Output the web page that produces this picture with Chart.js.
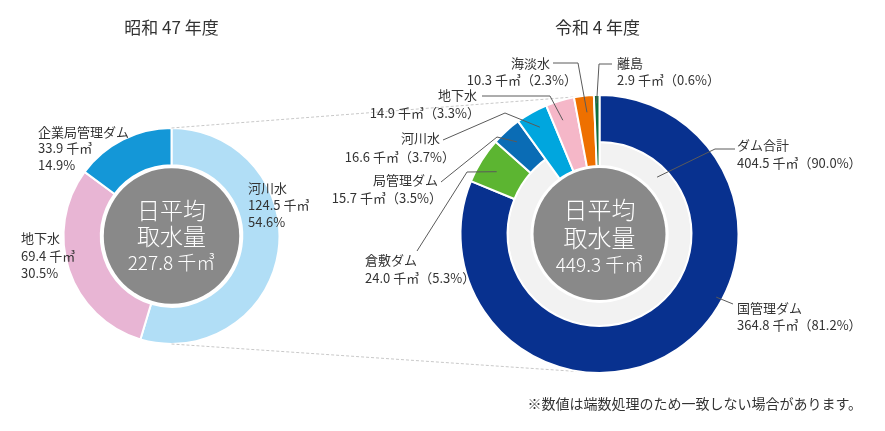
<!DOCTYPE html>
<html>
<head>
<meta charset="utf-8">
<script src="https://cdn.jsdelivr.net/npm/chart.js@4"></script>
<style>
body { margin: 0; background: #fff; }
#wrap { position: relative; width: 885px; height: 431px; }
#wrap canvas { position: absolute; left: 0; top: 0; }
</style>
</head>
<body>
<div id="wrap">
  <canvas id="left" width="885" height="431"></canvas>
  <canvas id="right" width="885" height="431"></canvas>
</div>
<script>
// 昭和47年度
const leftTitle = '昭和 47 年度'
const leftLabels = ['河川水', '地下水', '企業局管理ダム']
const leftValues = [124.5, 69.4, 33.9]
const leftShares = [54.6, 30.5, 14.9]
const leftTotal = 227.8

// 令和4年度
const rightTitle = '令和 4 年度'
const rightLabels = ['国管理ダム', '倉敷ダム', '局管理ダム', '河川水', '地下水', '海淡水', '離島']
const rightValues = [364.8, 24.0, 15.7, 16.6, 14.9, 10.3, 2.9]
const rightShares = [81.2, 5.3, 3.5, 3.7, 3.3, 2.3, 0.6]
const damLabel = 'ダム合計'
const damTotal = 404.5
const damShare = 90.0
const rightTotal = 449.3

const note = '※数値は端数処理のため一致しない場合があります。'

const FONT = '"Noto Sans CJK JP", "Noto Sans", sans-serif'
const TEXT = '#333'

function centerOf(chart) {
    const el = chart.getDatasetMeta(0).data[0]
    return {x: el.x, y: el.y, r: chart.getDatasetMeta(0).controller.outerRadius}
}

function drawCenter(ctx, c, radius, lines) {
    ctx.save()
    ctx.fillStyle = '#898989'
    ctx.beginPath()
    ctx.arc(c.x, c.y, radius, 0, Math.PI * 2)
    ctx.fill()
    ctx.fillStyle = '#fff'
    ctx.textAlign = 'center'
    ctx.textBaseline = 'middle'
    lines.forEach(([text, size, dy]) => {
        ctx.font = `300 ${size}px ${FONT}`
        ctx.fillText(text, c.x, c.y + dy)
    })
    ctx.restore()
}

function arcPoint(el, t, k) {
    const p = el.getProps(['x', 'y', 'startAngle', 'endAngle', 'outerRadius'], true)
    const a = p.startAngle + (p.endAngle - p.startAngle) * t
    const r = p.outerRadius * k
    return [p.x + Math.cos(a) * r, p.y + Math.sin(a) * r]
}

function text(ctx, str, x, y, align, size = 13) {
    ctx.font = `${size}px ${FONT}`
    ctx.textAlign = align
    ctx.textBaseline = 'middle'
    ctx.fillStyle = TEXT
    ctx.fillText(str, x, y)
}

// left label placement
const leftLayout = [
    {x: 248, y: [188, 205, 222]},
    {x: 21, y: [238, 256, 273]},
    {x: 38, y: [132, 148, 165]},
]

const leftPlugin = {
    id: 'leftDeco',
    afterDatasetsDraw(chart) {
        const ctx = chart.ctx
        const c = centerOf(chart)
        const inner = chart.getDatasetMeta(0).controller.innerRadius
        drawCenter(ctx, c, inner - 3, [['日平均', 23, -26], ['取水量', 23, 0], [`${leftTotal} 千㎥`, 19, 27]])
        ctx.save()
        text(ctx, leftTitle, c.x, 28, 'center', 17)
        leftLabels.forEach((name, i) => {
            const l = leftLayout[i]
            text(ctx, name, l.x, l.y[0], 'left')
            text(ctx, `${leftValues[i].toFixed(1)} 千㎥`, l.x, l.y[1], 'left')
            text(ctx, `${leftShares[i].toFixed(1)}%`, l.x, l.y[2], 'left')
        })
        ctx.restore()
    }
}

const leftChart = new Chart(document.getElementById('left'), {
    type: 'doughnut',
    data: {
        labels: leftLabels,
        datasets: [{
            data: leftValues,
            backgroundColor: ['#b1def6', '#e8b5d4', '#1497d7'],
            borderColor: '#fff',
            borderWidth: 2,
        }]
    },
    options: {
        responsive: false,
        animation: false,
        events: [],
        cutout: '65.5%',
        layout: {padding: {left: 62, top: 127, right: 604, bottom: 86}},
        plugins: {legend: {display: false}, tooltip: {enabled: false}}
    },
    plugins: [leftPlugin]
})

// right label placement: ring, slice, text positions, leader path, anchor in slice
const rightLayout = [
    {ds: 0, i: 0, nx: 737, vx: 737, align: 'left', y: [308, 325], path: [[733, 304]], t: 0.405, k: 0.955},
    {ds: 0, i: 1, nx: 365, vx: 365, align: 'left', y: [260, 278], path: [[417, 251], [467, 172]], t: 0.46, k: 0.865},
    {ds: 0, i: 2, nx: 438, vx: 442, align: 'right', y: [180, 198], path: [[441, 182], [497, 137]], t: 0.52, k: 0.89},
    {ds: 0, i: 3, nx: 440, vx: 455, align: 'right', y: [138, 157], path: [[443, 140], [505, 113]], t: 0.5, k: 0.88},
    {ds: 0, i: 4, nx: 477, vx: 480, align: 'right', y: [95, 113], path: [[482, 96], [550, 96]], t: 0.39, k: 0.86},
    {ds: 0, i: 5, nx: 550, vx: 577, align: 'right', y: [63, 80], path: [[553, 63], [578, 63]], t: 0.57, k: 0.88},
    {ds: 0, i: 6, nx: 617, vx: 617, align: 'left', y: [63, 80], path: [[612, 64], [599, 64]], t: 0.45, k: 0.94},
    {ds: 1, i: 0, nx: 737, vx: 737, align: 'left', y: [145, 163], path: [[735, 149], [715, 149]], t: 0.14, k: 0.88},
]

const rightPlugin = {
    id: 'rightDeco',
    beforeDatasetsDraw(chart) {
        // non-dam sources run through both rings
        const outer = chart.getDatasetMeta(0)
        const inner = chart.getDatasetMeta(1)
        outer.data.forEach((el, i) => {
            if (i >= 3) el.innerRadius = inner.controller.innerRadius
        })
        // zoom connector lines from the left donut
        const a = centerOf(leftChart)
        const b = centerOf(chart)
        const ctx = chart.ctx
        ctx.save()
        ctx.strokeStyle = '#c8c8c8'
        ctx.lineWidth = 1
        ctx.setLineDash([3, 2])
        ctx.beginPath()
        ctx.moveTo(a.x, a.y - a.r)
        ctx.lineTo(b.x, b.y - b.r)
        ctx.moveTo(a.x, a.y + a.r)
        ctx.lineTo(b.x, b.y + b.r)
        ctx.stroke()
        ctx.restore()
    },
    afterDatasetsDraw(chart) {
        const ctx = chart.ctx
        const c = centerOf(chart)
        const inner = chart.getDatasetMeta(1).controller.innerRadius
        drawCenter(ctx, c, inner - 2, [['日平均', 24, -24], ['取水量', 24, 4], [`${rightTotal} 千㎥`, 19, 31]])
        ctx.save()
        text(ctx, rightTitle, c.x - 2, 28, 'center', 17)
        rightLayout.forEach(l => {
            const el = chart.getDatasetMeta(l.ds).data[l.i]
            const end = arcPoint(el, l.t, l.k)
            ctx.strokeStyle = '#5a5a5a'
            ctx.lineWidth = 1
            ctx.beginPath()
            l.path.forEach(([x, y], j) => j ? ctx.lineTo(x, y) : ctx.moveTo(x, y))
            ctx.lineTo(end[0], end[1])
            ctx.stroke()
            const name = l.ds ? damLabel : rightLabels[l.i]
            const v = l.ds ? damTotal : rightValues[l.i]
            const s = l.ds ? damShare : rightShares[l.i]
            text(ctx, name, l.nx, l.y[0], l.align)
            text(ctx, `${v.toFixed(1)} 千㎥（${s.toFixed(1)}%）`, l.vx, l.y[1], l.align)
        })
        text(ctx, note, 862, 404, 'right', 14)
        ctx.restore()
    }
}

new Chart(document.getElementById('right'), {
    type: 'doughnut',
    data: {
        labels: rightLabels,
        datasets: [{
            data: rightValues,
            backgroundColor: ['#08318f', '#5cb531', '#0a6cb5', '#00a6de', '#f5b7c8', '#ee7000', '#0f6d3a'],
            borderColor: '#fff',
            borderWidth: 2,
            weight: 47,
        }, {
            data: [damTotal, rightTotal - damTotal],
            backgroundColor: ['#f2f2f2', 'rgba(0,0,0,0)'],
            borderColor: '#fff',
            borderWidth: [2, 0],
            weight: 24,
        }]
    },
    options: {
        responsive: false,
        animation: false,
        events: [],
        cutout: '48.9%',
        layout: {padding: {left: 459, top: 94, right: 145, bottom: 57}},
        plugins: {legend: {display: false}, tooltip: {enabled: false}}
    },
    plugins: [rightPlugin]
})
</script>
</body>
</html>
